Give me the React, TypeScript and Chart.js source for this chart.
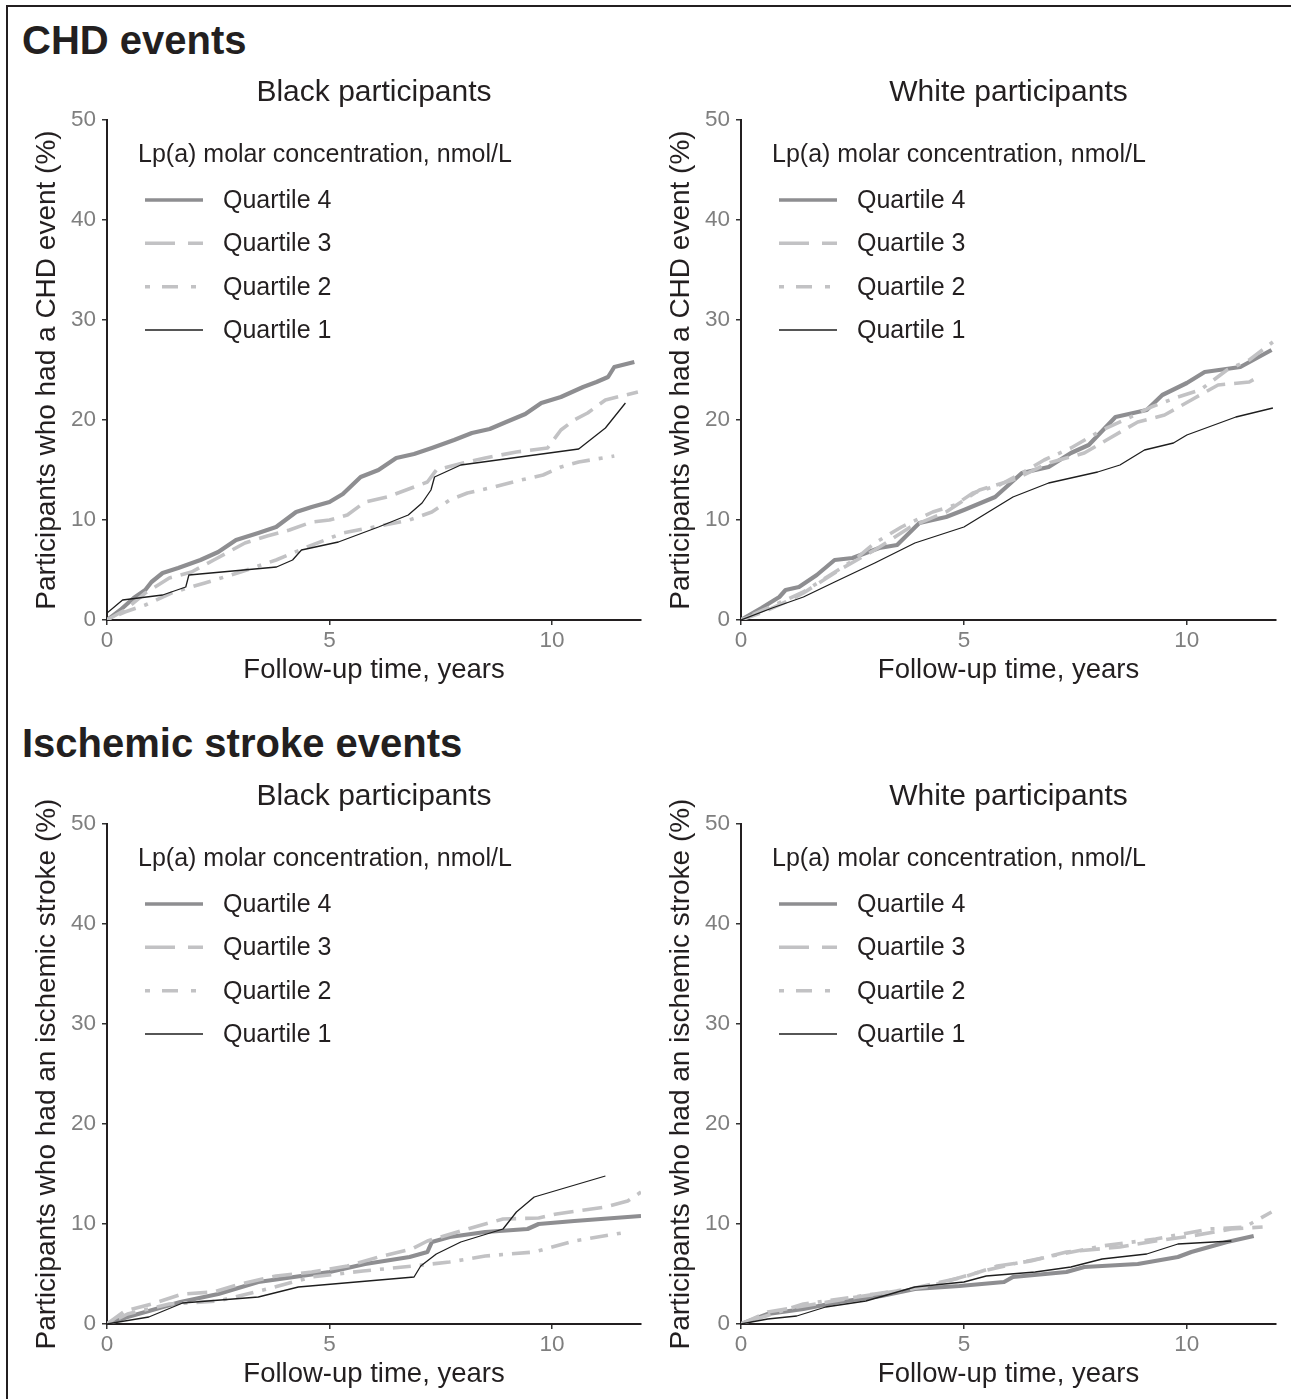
import React, { useEffect, useRef } from 'react';
import { Chart, registerables } from 'chart.js';

Chart.register(...registerables);

type Pt = [number, number];

const FONT = '"Liberation Sans", Arial, Helvetica, sans-serif';
const TEXT = '#231f20';
const TICK_TEXT = '#7f7f7f';

const X_TICKS = [0, 5, 10];
const Y_TICKS = [0, 10, 20, 30, 40, 50];
const X_MAX = 12;
const Y_MAX = 50;

const LEGEND_TITLE = 'Lp(a) molar concentration, nmol/L';
const QUARTILES = ['Quartile 4', 'Quartile 3', 'Quartile 2', 'Quartile 1'];
const X_TITLE = 'Follow-up time, years';

// ---- CHD events, Black participants (years, %)
const chdBlackQ4: Pt[] = [[0, 0], [0.3, 1.0], [0.6, 2.2], [0.86, 3.0], [1.0, 3.8], [1.25, 4.7], [1.6, 5.2], [2.1, 6.0], [2.5, 6.8], [2.9, 8.0], [3.4, 8.7], [3.8, 9.3], [4.25, 10.8], [4.6, 11.3], [5.0, 11.8], [5.3, 12.6], [5.7, 14.3], [6.1, 15.0], [6.5, 16.2], [6.9, 16.6], [7.3, 17.2], [7.8, 18.0], [8.2, 18.7], [8.6, 19.1], [8.97, 19.8], [9.4, 20.6], [9.76, 21.7], [10.2, 22.3], [10.7, 23.3], [11.0, 23.8], [11.26, 24.3], [11.4, 25.3], [11.85, 25.8]];
const chdBlackQ3: Pt[] = [[0, 0], [0.4, 1.0], [0.86, 2.7], [1.4, 4.2], [1.9, 4.8], [2.4, 6.0], [3.1, 7.7], [3.6, 8.4], [4.1, 9.0], [4.6, 9.8], [5.0, 10.0], [5.4, 10.5], [5.8, 11.8], [6.3, 12.3], [6.9, 13.3], [7.2, 13.8], [7.4, 15.0], [8.0, 15.7], [8.5, 16.2], [9.2, 16.8], [9.9, 17.2], [10.2, 19.0], [10.5, 20.0], [10.8, 20.7], [11.2, 22.0], [11.93, 22.8]];
const chdBlackQ2: Pt[] = [[0, 0], [0.4, 0.8], [0.86, 1.5], [1.5, 2.8], [2.2, 3.7], [3.0, 4.8], [3.8, 6.0], [4.5, 7.3], [5.3, 8.7], [6.0, 9.3], [6.8, 10.0], [7.3, 10.8], [7.7, 12.0], [8.1, 12.7], [8.7, 13.3], [9.3, 14.0], [9.8, 14.5], [10.2, 15.3], [10.6, 15.8], [11.4, 16.4]];
const chdBlackQ1: Pt[] = [[0, 0.7], [0.35, 2.0], [1.25, 2.5], [1.77, 3.3], [1.84, 4.5], [3.81, 5.3], [4.17, 6.0], [4.37, 7.0], [5.2, 7.8], [6.1, 9.3], [6.77, 10.5], [7.08, 11.7], [7.28, 13.0], [7.36, 14.3], [7.95, 15.5], [10.6, 17.1], [11.2, 19.2], [11.65, 21.7]];

// ---- CHD events, White participants
const chdWhiteQ4: Pt[] = [[0, 0], [0.46, 1.2], [0.86, 2.3], [1.0, 3.0], [1.3, 3.3], [1.7, 4.5], [2.1, 6.0], [2.5, 6.2], [3.1, 7.2], [3.5, 7.5], [4.0, 9.7], [4.6, 10.3], [5.0, 11.0], [5.7, 12.3], [6.3, 14.7], [6.9, 15.3], [7.4, 16.7], [7.8, 17.5], [8.4, 20.3], [9.1, 21.0], [9.45, 22.5], [10.0, 23.7], [10.4, 24.8], [11.2, 25.3], [11.9, 27.0]];
const chdWhiteQ3: Pt[] = [[0, 0], [0.5, 0.8], [1.0, 1.8], [1.4, 2.7], [2.2, 5.0], [3.0, 7.0], [3.8, 9.3], [4.6, 10.8], [5.35, 13.0], [6.1, 14.0], [6.9, 15.7], [7.7, 16.7], [8.2, 18.0], [8.9, 19.8], [9.5, 20.5], [10.1, 22.0], [10.7, 23.5], [11.4, 23.8], [11.6, 24.3]];
const chdWhiteQ2: Pt[] = [[0, 0], [0.5, 1.0], [1.0, 2.0], [1.4, 2.8], [2.0, 4.5], [2.6, 6.2], [3.0, 7.7], [3.6, 9.3], [4.3, 10.8], [4.8, 11.5], [5.2, 12.7], [5.8, 13.5], [6.3, 14.7], [6.8, 16.0], [7.4, 17.2], [8.1, 19.0], [8.6, 20.0], [9.2, 21.3], [9.8, 22.3], [10.3, 23.0], [10.9, 25.0], [11.4, 26.0], [11.93, 27.8]];
const chdWhiteQ1: Pt[] = [[0, 0], [0.7, 1.2], [1.4, 2.3], [2.1, 3.8], [3.0, 5.7], [3.9, 7.7], [5.0, 9.3], [6.1, 12.3], [6.9, 13.7], [8.0, 14.8], [8.5, 15.5], [9.05, 17.0], [9.7, 17.7], [10.0, 18.5], [11.1, 20.3], [11.93, 21.2]];

// ---- Ischemic stroke events, Black participants
const strokeBlackQ4: Pt[] = [[0, 0], [0.46, 0.7], [0.94, 1.3], [1.65, 2.2], [2.5, 3.0], [3.4, 4.2], [4.2, 4.7], [5.0, 5.2], [5.8, 6.0], [6.8, 6.7], [7.2, 7.2], [7.3, 8.2], [7.7, 8.7], [8.5, 9.2], [9.45, 9.5], [9.7, 10.0], [10.5, 10.3], [12.0, 10.8]];
const strokeBlackQ3: Pt[] = [[0, 0], [0.4, 1.3], [1.0, 2.0], [1.7, 3.0], [2.4, 3.2], [3.0, 4.0], [3.8, 4.8], [4.6, 5.2], [5.4, 5.8], [6.1, 6.7], [6.85, 7.5], [7.2, 8.3], [8.1, 9.5], [8.9, 10.5], [9.7, 10.6], [10.1, 11.0], [11.2, 11.7], [11.7, 12.3], [12.0, 13.2]];
const strokeBlackQ2: Pt[] = [[0, 0], [0.46, 1.0], [1.4, 2.0], [2.5, 2.3], [3.6, 3.5], [4.6, 4.7], [5.75, 5.3], [6.9, 5.8], [7.7, 6.2], [8.5, 6.8], [9.6, 7.2], [10.5, 8.3], [11.7, 9.2]];
const strokeBlackQ1: Pt[] = [[0, 0], [0.94, 0.7], [1.7, 2.1], [3.4, 2.7], [4.3, 3.7], [6.9, 4.7], [7.05, 5.8], [7.4, 7.0], [7.95, 8.2], [8.9, 9.5], [9.2, 11.2], [9.6, 12.7], [11.2, 14.8]];

// ---- Ischemic stroke events, White participants
const strokeWhiteQ4: Pt[] = [[0, 0], [0.6, 1.0], [1.4, 1.5], [2.2, 2.2], [3.15, 2.8], [3.9, 3.5], [4.9, 3.8], [5.9, 4.2], [6.1, 4.7], [7.3, 5.2], [7.7, 5.7], [8.9, 6.0], [9.8, 6.7], [10.1, 7.2], [10.9, 8.2], [11.5, 8.8]];
const strokeWhiteQ3: Pt[] = [[0, 0], [0.6, 1.2], [1.4, 1.8], [2.6, 2.7], [3.8, 3.5], [5.0, 4.7], [5.75, 5.8], [6.5, 6.3], [7.3, 7.2], [8.5, 7.7], [9.3, 8.3], [10.1, 8.8], [11.0, 9.5], [11.7, 9.7]];
const strokeWhiteQ2: Pt[] = [[0, 0], [1.4, 2.0], [3.0, 3.0], [4.25, 3.8], [5.35, 5.2], [6.1, 6.0], [7.2, 7.0], [8.1, 7.8], [9.3, 8.5], [10.5, 9.5], [11.3, 9.7], [11.9, 11.2]];
const strokeWhiteQ1: Pt[] = [[0, 0], [0.6, 0.5], [1.25, 0.8], [1.9, 1.7], [2.8, 2.3], [3.9, 3.7], [5.0, 4.2], [5.5, 4.8], [6.6, 5.2], [7.4, 5.7], [8.1, 6.5], [9.1, 7.0], [9.8, 8.0], [11.0, 8.3]];

type Style = { color: string; width: number; dash: number[]; legendDash: number[] };
const QUARTILE_STYLES: Style[] = [
  { color: '#8e8e91', width: 4.2, dash: [], legendDash: [] },
  { color: '#c2c2c4', width: 3.6, dash: [20, 9], legendDash: [30, 13] },
  { color: '#c2c2c4', width: 3.6, dash: [4, 9, 18, 9], legendDash: [5, 12, 16, 13] },
  { color: '#1e1e1e', width: 1.3, dash: [], legendDash: [] },
];

type PanelProps = {
  left: number;
  top: number;
  width: number;
  title: string;
  yTitle: string;
  series: Pt[][]; // Q4, Q3, Q2, Q1
};

const CANVAS_H = 620;

const legendPlugin = {
  id: 'quartileLegend',
  afterDraw(chart: any) {
    const { ctx, chartArea } = chart;
    const L = chartArea.left;
    const T = chartArea.top;
    ctx.save();
    ctx.fillStyle = TEXT;
    ctx.textBaseline = 'middle';
    ctx.textAlign = 'left';
    ctx.font = `25px ${FONT}`;
    ctx.fillText(LEGEND_TITLE, L + 31, T + 35);
    const rows = [80, 123.3, 166.7, 210];
    QUARTILES.forEach((q, i) => {
      const st = QUARTILE_STYLES[i];
      const y = T + rows[i];
      ctx.beginPath();
      ctx.strokeStyle = st.color;
      ctx.lineWidth = Math.min(st.width, 3.6);
      ctx.setLineDash(st.legendDash);
      ctx.lineCap = 'butt';
      ctx.moveTo(L + 38, y);
      ctx.lineTo(L + 96, y);
      ctx.stroke();
      ctx.setLineDash([]);
      ctx.fillStyle = TEXT;
      ctx.fillText(q, L + 116, y + 1);
    });
    ctx.restore();
  },
};

function Panel({ left, top, width, title, yTitle, series }: PanelProps) {
  const ref = useRef<HTMLCanvasElement | null>(null);
  useEffect(() => {
    if (!ref.current) return;
    // Draw order: Quartile 1 on top (dataset 0 drawn last)
    const order = [3, 2, 1, 0];
    const datasets = order.map((qi) => {
      const st = QUARTILE_STYLES[qi];
      return {
        label: QUARTILES[qi],
        data: series[qi].map(([x, y]) => ({ x, y })),
        borderColor: st.color,
        borderWidth: st.width,
        borderDash: st.dash,
        borderJoinStyle: 'round' as const,
        borderCapStyle: 'butt' as const,
        pointRadius: 0,
        tension: 0,
        fill: false,
      };
    });
    const chart = new Chart(ref.current, {
      type: 'line',
      data: { datasets },
      options: {
        animation: false,
        responsive: false,
        maintainAspectRatio: false,
        layout: { padding: { left: 0, right: 11, top: 0, bottom: 0 } },
        plugins: {
          legend: { display: false },
          tooltip: { enabled: false },
          title: {
            display: true,
            text: title,
            fullSize: false,
            color: TEXT,
            font: { size: 30, lineHeight: 1, family: FONT, weight: 'normal' },
            padding: { top: 8, bottom: 12 },
          },
        },
        scales: {
          x: {
            type: 'linear',
            min: 0,
            max: X_MAX,
            afterBuildTicks: (s: any) => {
              s.ticks = X_TICKS.map((v) => ({ value: v }));
            },
            afterFit: (s: any) => {
              s.height = 70;
            },
            grid: { drawOnChartArea: false, drawTicks: true, tickLength: 5, color: '#333333', lineWidth: 1.5 },
            border: { display: true, color: TEXT, width: 2 },
            ticks: { color: TICK_TEXT, font: { size: 22.5, lineHeight: 1, family: FONT }, padding: 5, maxRotation: 0 },
            title: {
              display: true,
              text: X_TITLE,
              color: TEXT,
              font: { size: 27.5, lineHeight: 1, family: FONT },
              padding: { top: 0, bottom: 5.5 },
            },
          },
          y: {
            type: 'linear',
            min: 0,
            max: Y_MAX,
            afterBuildTicks: (s: any) => {
              s.ticks = Y_TICKS.map((v) => ({ value: v }));
            },
            afterFit: (s: any) => {
              s.width = 95;
            },
            grid: { drawOnChartArea: false, drawTicks: true, tickLength: 5, color: '#333333', lineWidth: 1.5 },
            border: { display: true, color: TEXT, width: 2 },
            ticks: { color: TICK_TEXT, font: { size: 22.5, lineHeight: 1, family: FONT }, padding: 6 },
            title: {
              display: true,
              text: yTitle,
              color: TEXT,
              font: { size: 28, lineHeight: 1, family: FONT },
              padding: { top: 21.5, bottom: 0 },
            },
          },
        },
      },
      plugins: [legendPlugin],
    });
    return () => chart.destroy();
  }, [title, yTitle, series]);
  return (
    <canvas
      ref={ref}
      width={width}
      height={CANVAS_H}
      style={{ position: 'absolute', left, top, width, height: CANVAS_H }}
    />
  );
}

const headStyle: React.CSSProperties = {
  position: 'absolute',
  left: 22,
  fontFamily: FONT,
  fontWeight: 'bold',
  fontSize: 40,
  lineHeight: '40px',
  color: TEXT,
  whiteSpace: 'nowrap',
};

export default function App() {
  Chart.defaults.font.family = FONT;
  return (
    <div style={{ position: 'absolute', left: 0, top: 0, width: 1291, height: 1399, background: '#fff', overflow: 'hidden' }}>
      <div
        style={{
          position: 'absolute',
          left: 6,
          top: 5,
          width: 1300,
          height: 1420,
          borderTop: '2px solid ' + TEXT,
          borderLeft: '2px solid ' + TEXT,
          boxSizing: 'border-box',
        }}
      />
      <div style={{ ...headStyle, top: 40 - 20 }}>CHD events</div>
      <div style={{ ...headStyle, top: 743 - 20 }}>Ischemic stroke events</div>
      <Panel left={12} top={70} width={640} title="Black participants" yTitle="Participants who had a CHD event (%)" series={[chdBlackQ4, chdBlackQ3, chdBlackQ2, chdBlackQ1]} />
      <Panel left={646} top={70} width={641} title="White participants" yTitle="Participants who had a CHD event (%)" series={[chdWhiteQ4, chdWhiteQ3, chdWhiteQ2, chdWhiteQ1]} />
      <Panel left={12} top={774} width={640} title="Black participants" yTitle="Participants who had an ischemic stroke (%)" series={[strokeBlackQ4, strokeBlackQ3, strokeBlackQ2, strokeBlackQ1]} />
      <Panel left={646} top={774} width={641} title="White participants" yTitle="Participants who had an ischemic stroke (%)" series={[strokeWhiteQ4, strokeWhiteQ3, strokeWhiteQ2, strokeWhiteQ1]} />
    </div>
  );
}
